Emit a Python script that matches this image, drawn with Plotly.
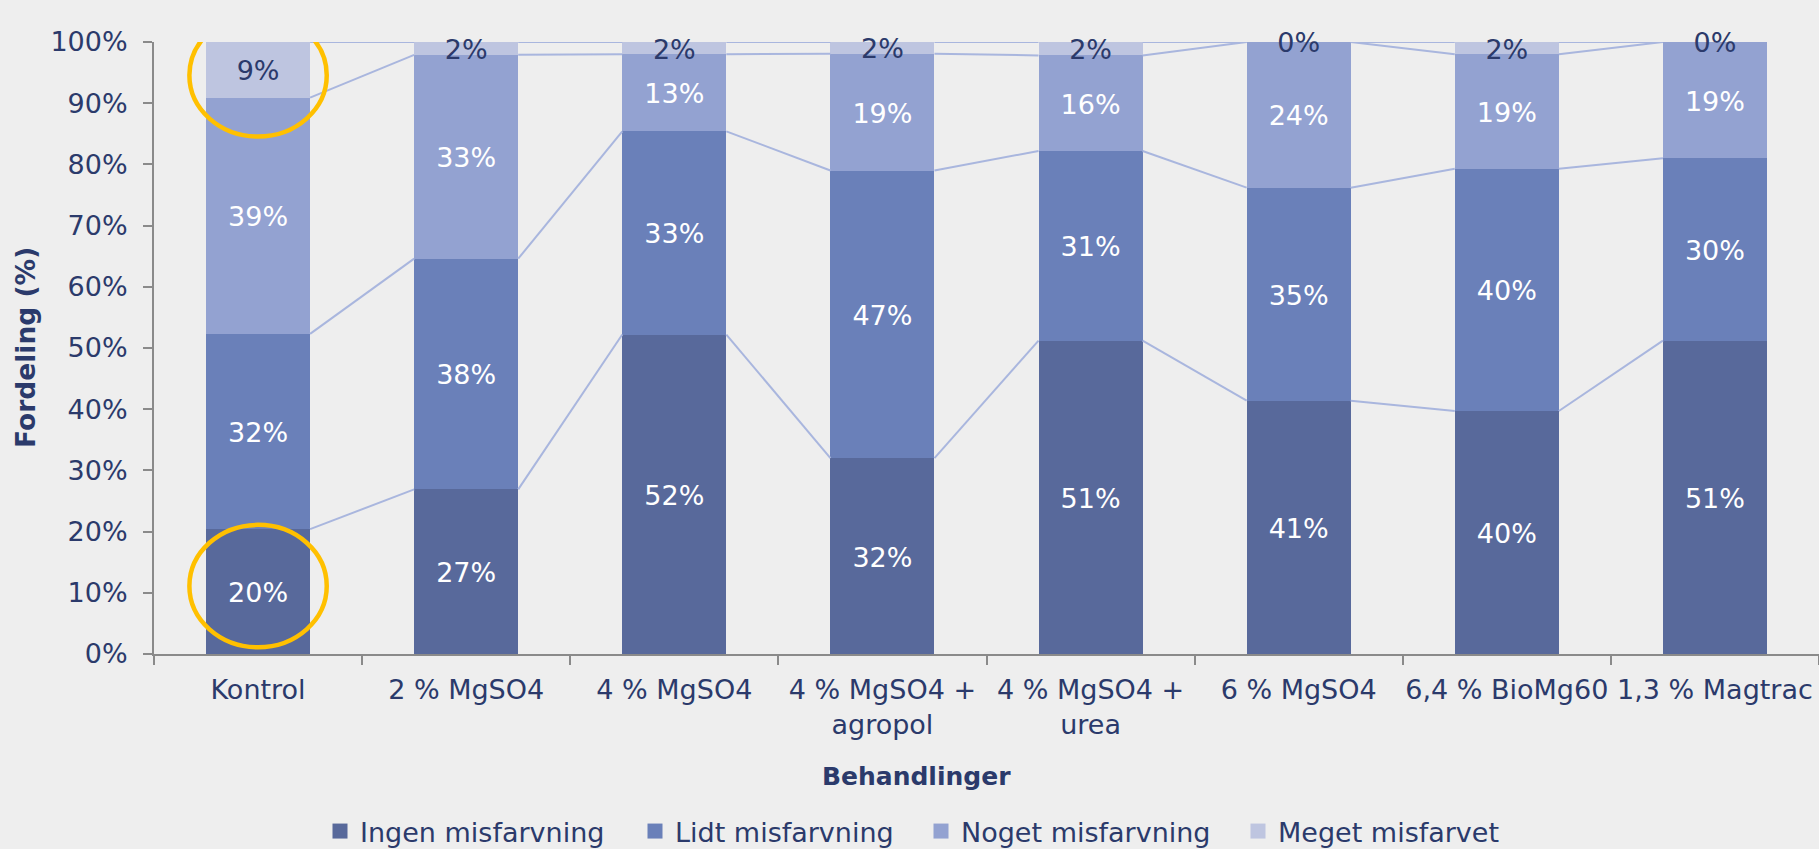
import plotly.graph_objects as go

categories = ["Kontrol", "2 % MgSO4", "4 % MgSO4", "4 % MgSO4 +<br>agropol",
              "4 % MgSO4 +<br>urea", "6 % MgSO4", "6,4 % BioMg60", "1,3 % Magtrac"]
series_names = ["Ingen misfarvning", "Lidt misfarvning", "Noget misfarvning", "Meget misfarvet"]
ingen = [20.4, 26.9, 52.2, 32.0, 51.2, 41.4, 39.7, 51.2]
lidt = [31.9, 37.7, 33.2, 47.0, 31.0, 34.8, 39.6, 29.8]
noget = [38.6, 33.3, 12.6, 19.1, 15.6, 23.8, 18.7, 19.0]
meget = [9.1, 2.1, 2.0, 1.9, 2.2, 0.0, 2.0, 0.0]
series = [ingen, lidt, noget, meget]
colors = ["#58699B", "#6A80B9", "#93A2D1", "#BEC5E0"]
label_colors = ["#FFFFFF", "#FFFFFF", "#FFFFFF", "#2B3A6B"]
y_ticks = [0, 10, 20, 30, 40, 50, 60, 70, 80, 90, 100]

NAVY = "#2B3A6B"
FONT = "DejaVu Sans"
FS = 27
W, H = 1819, 849
xs = list(range(len(categories)))
half = 0.25
label_nudge = -0.6  # small downward nudge of segment labels (in % units)

fig = go.Figure()

cum = []
run = [0.0] * len(xs)
for s in series:
    bottoms = run[:]
    run = [b + v for b, v in zip(run, s)]
    cum.append((bottoms, run[:]))

# series connector lines
for k, (bot, top) in enumerate(cum):
    lx, ly = [], []
    for i in range(len(xs) - 1):
        lx += [xs[i] + half, xs[i + 1] - half, None]
        ly += [top[i], top[i + 1], None]
    fig.add_trace(go.Scatter(x=lx, y=ly, mode="lines", xaxis="x2",
                             line=dict(color="#A9B6DE", width=2),
                             showlegend=False, hoverinfo="skip"))

for k, s in enumerate(series):
    fig.add_trace(go.Bar(x=xs, y=s, name=series_names[k], marker_color=colors[k],
                         marker_line_width=0, showlegend=False))

for k, s in enumerate(series):
    bot, top = cum[k]
    mids = [(b + t) / 2 + label_nudge for b, t in zip(bot, top)]
    fig.add_trace(go.Scatter(x=xs, y=mids, mode="text", xaxis="x2", cliponaxis=False,
                             text=[f"{round(v)}%" for v in s],
                             textfont=dict(family=FONT, size=FS, color=label_colors[k]),
                             showlegend=False, hoverinfo="skip"))

# legend entries (one legend per entry, placed like the original)
legend_text_x = [362, 677, 963, 1280]
legend_names = ["legend", "legend2", "legend3", "legend4"]
for k in range(len(series)):
    fig.add_trace(go.Scatter(x=[None], y=[None], mode="markers", name=series_names[k],
                             marker=dict(symbol="square", size=15, color=colors[k]),
                             legend=legend_names[k], showlegend=True, hoverinfo="skip"))

# highlight circles around Kontrol's top and bottom labels
for k, dy in ((3, -0.9), (0, 0.9)):
    bot, top = cum[k]
    m = (bot[0] + top[0]) / 2 + dy
    fig.add_shape(type="circle", xref="x", yref="y", x0=xs[0] - 0.33, x1=xs[0] + 0.33,
                  y0=m - 10.0, y1=m + 10.0, line=dict(color="#FFC000", width=4.5), layer="above")

legend_common = dict(orientation="h", xref="container", yref="container", xanchor="left",
                     yanchor="middle", y=(H - 831.5) / H, itemwidth=30,
                     font=dict(family=FONT, size=FS, color=NAVY), bgcolor="rgba(0,0,0,0)")
legends = {}
for k, ln in enumerate(legend_names):
    legends[ln] = dict(legend_common, x=(legend_text_x[k] - 42) / W)

fig.update_layout(
    width=W, height=H,
    margin=dict(l=154, r=0, t=42, b=195),
    paper_bgcolor="#EEEEEE", plot_bgcolor="rgba(0,0,0,0)",
    barmode="stack", bargap=0.5,
    font=dict(family=FONT, size=FS, color=NAVY),
    xaxis=dict(range=[-0.5, 7.5], tickvals=[i - 0.5 for i in range(len(xs) + 1)],
               ticktext=[""] * (len(xs) + 1), ticks="outside", ticklen=9, tickwidth=2,
               tickcolor="#8A8A8A", showline=True, linecolor="#8A8A8A", linewidth=2,
               showgrid=False, zeroline=False, fixedrange=True),
    xaxis2=dict(range=[-0.5, 7.5], overlaying="x", anchor="y", side="bottom",
                tickvals=xs, ticktext=categories, ticks="", showline=False, showgrid=False,
                zeroline=False, tickfont=dict(family=FONT, size=FS, color=NAVY),
                ticklabelstandoff=17),
    yaxis=dict(range=[0, 100], tickvals=y_ticks, ticktext=[f"{v}%" for v in y_ticks],
               ticks="outside", ticklen=9, tickwidth=2, tickcolor="#8A8A8A", showline=True,
               linecolor="#8A8A8A", linewidth=2, showgrid=False, zeroline=False,
               tickfont=dict(family=FONT, size=FS, color=NAVY), ticklabelstandoff=10),
    annotations=[
        dict(text="<b>Behandlinger</b>", xref="paper", yref="paper", x=(916 - 154) / 1665,
             y=(654 - 776) / 612, xanchor="center", yanchor="middle", showarrow=False,
             font=dict(family=FONT, size=25, color=NAVY)),
        dict(text="<b>Fordeling (%)</b>", xref="paper", yref="paper", x=(25 - 154) / 1665,
             y=0.5, xanchor="center", yanchor="middle", textangle=-90, showarrow=False,
             font=dict(family=FONT, size=26.5, color=NAVY)),
    ],
    **legends,
)

fig.write_html("out.html", config={"displayModeBar": False},
               post_script="document.body.style.margin='0';"
                           "document.body.style.background='#EEEEEE';"
                           "document.body.style.overflow='hidden';")
